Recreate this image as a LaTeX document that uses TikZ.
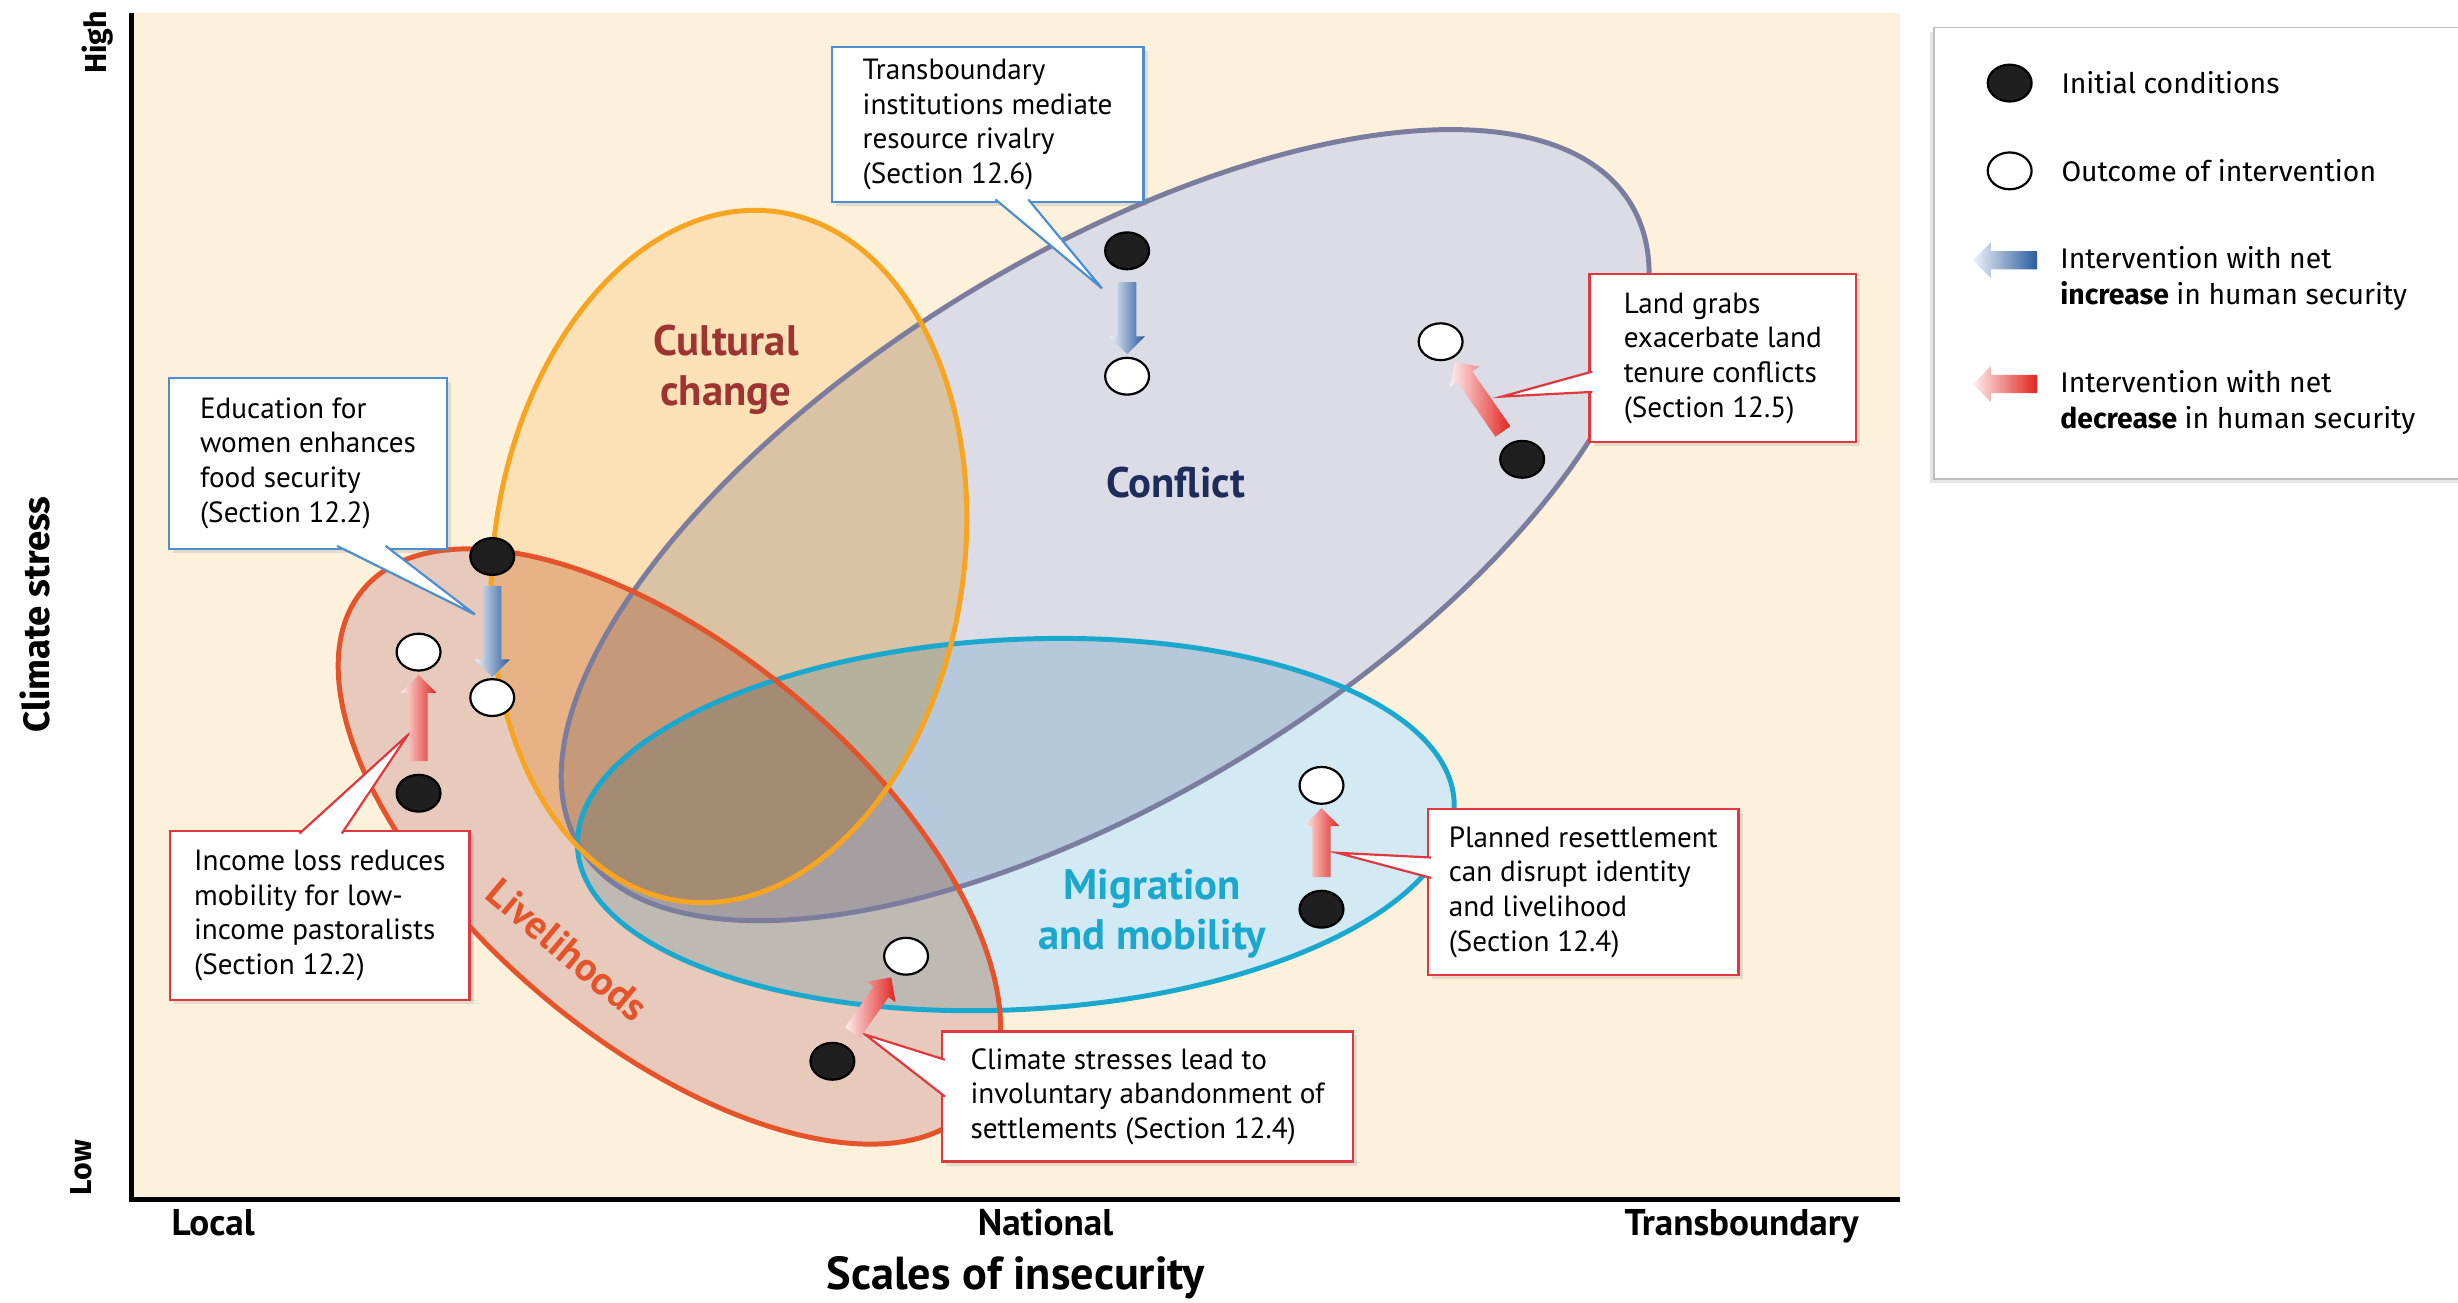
\documentclass[tikz,border=0pt]{standalone}
\usepackage{fontspec}
\setmainfont{PT Sans}
\newfontfamily\keyfont{Fira Sans}
\usepackage{tikz}
\usetikzlibrary{shapes.geometric, shapes.arrows, shadows, calc, positioning}
\definecolor{cream}{HTML}{FDF1DC}
\definecolor{confFill}{HTML}{DCDCE6}
\definecolor{confLine}{HTML}{7B7D9F}
\definecolor{cultFill}{HTML}{FDE1B6}
\definecolor{cultLine}{HTML}{F7A520}
\definecolor{livFill}{HTML}{E8CABC}
\definecolor{livLine}{HTML}{E4532A}
\definecolor{migFill}{HTML}{D3EAF5}
\definecolor{migLine}{HTML}{1BA8CE}
\definecolor{noteblue}{HTML}{4C8ED0}
\definecolor{notered}{HTML}{E0383E}
\definecolor{arrblue}{HTML}{2A5C9F}
\definecolor{arrred}{HTML}{E2231F}
\definecolor{cultname}{HTML}{9D3431}
\definecolor{confname}{HTML}{1E2C5C}
\tikzset{
	zone/.style={line width=1.8pt},
	dot/.style={ellipse, draw=black, line width=0.8pt, inner sep=0pt, minimum width=0.56cm, minimum height=0.47cm},
	initdot/.style={dot, fill=black!88},
	outdot/.style={dot, fill=white},
	note/.style={draw, fill=white, line width=0.8pt, outer sep=0pt, align=left, inner sep=0pt,
		font=\fontsize{10.6}{12.6}\selectfont, drop shadow={opacity=0.2, shadow xshift=1.5pt, shadow yshift=-1.5pt}},
	bluenote/.style={note, draw=noteblue},
	rednote/.style={note, draw=notered},
	push/.style={single arrow, inner xsep=0pt, inner ysep=0.11cm, single arrow head extend=0.11cm, sloped, allow upside down},
	gain/.style={push, left color=arrblue!8, right color=arrblue},
	loss/.style={push, left color=arrred!8, right color=arrred},
	tag/.style={font=\bfseries\fontsize{15.5}{18}\selectfont, align=center},
	axislabel/.style={font=\bfseries\fontsize{13.5}{16}\selectfont, anchor=base},
	keytext/.style={font=\keyfont\fontsize{10.3}{13}\selectfont, align=left, inner sep=0pt}
}
\newcommand{\pointer}[4]{%
	\fill[white] (#2) -- (#4) -- (#3) -- cycle;
	\draw[#1, line width=0.8pt] (#2) -- (#4) -- (#3);
}
\begin{document}
\begin{tikzpicture}[x=0.02cm, y=-0.02cm]
	\useasboundingbox (0,0) rectangle (1568,831);
	\fill[cream] (85,8) rectangle (1212,765);

	\coordinate (confl) at (705,335);
	\coordinate (cult) at (465,355);
	\coordinate (liveli) at (427,540);
	\coordinate (migr) at (648,526);
	\foreach \z/\a/\b/\r in {confl/393/172/31.5, cult/150/222/-8, liveli/255/125/-40, migr/280/118/3}
		\fill[white, rotate around={\r:(\z)}] (\z) ellipse [x radius=\a, y radius=\b];
	\begin{scope}[blend mode=multiply]
		\foreach \z/\a/\b/\r/\col in {confl/393/172/31.5/conf, cult/150/222/-8/cult, liveli/255/125/-40/liv, migr/280/118/3/mig}
			\fill[\col Fill, rotate around={\r:(\z)}] (\z) ellipse [x radius=\a, y radius=\b];
	\end{scope}
	\foreach \z/\a/\b/\r/\col in {confl/393/172/31.5/conf, migr/280/118/3/mig, liveli/255/125/-40/liv, cult/150/222/-8/cult}
		\draw[zone, \col Line, rotate around={\r:(\z)}] (\z) ellipse [x radius=\a, y radius=\b];

	\node[tag, text=cultname] (cultural) at (463,236) {Cultural\\change};
	\node[tag, text=confname] (conflict) at (750,308) {Conflict};
	\node[tag, text=migLine] (migration) at (735,583) {Migration\\and mobility};
	\node[tag, text=livLine, rotate=-40, font=\bfseries\fontsize{14.5}{17}\selectfont] (livelihoods) at (362,606) {Livelihoods};

	% axes
	\draw[line width=1.7pt] (84,8) -- (84,765) -- (1212,765);
	\node[font=\keyfont\bfseries\fontsize{11}{13}\selectfont, rotate=90] (high) at (62,27) {High};
	\node[font=\keyfont\bfseries\fontsize{11}{13}\selectfont, rotate=90] (low) at (52,745) {Low};
	\node[font=\keyfont\bfseries\fontsize{13.3}{15}\selectfont, rotate=90] (stress) at (22,392) {Climate stress};
	\node[axislabel] (local) at (136,788) {Local};
	\node[axislabel] (national) at (667,788) {National};
	\node[axislabel] (transb) at (1111,788) {Transboundary};
	\node[font=\bfseries\fontsize{16.8}{20}\selectfont] (scales) at (648,815) {Scales of insecurity};

	% legend
	\node[draw=black!25, fill=white, line width=0.6pt, minimum width=8cm, minimum height=5.76cm, anchor=north west,
		drop shadow={opacity=0.2, shadow xshift=-1.5pt, shadow yshift=-1.5pt}] (key) at (1233,17) {};
	\node[initdot] (keyinit) at (1282,53) {};
	\node[outdot] (keyout) at (1282,109) {};
	\node[gain, minimum height=0.82cm, rotate=180] (keyup) at (1282,166) {};
	\node[loss, minimum height=0.82cm, rotate=180] (keydown) at (1282,245) {};
	\node[keytext, right=0.36cm of keyinit] (keyinittext) {Initial conditions};
	\node[keytext, right=0.36cm of keyout] (keyouttext) {Outcome of intervention};
	\node[keytext, anchor=north west] (keyuptext) at (1314,157) {Intervention with net\\\textbf{increase} in human security};
	\node[keytext, anchor=north west] (keydowntext) at (1314,236) {Intervention with net\\\textbf{decrease} in human security};

	% callouts
	\node[bluenote, minimum width=3.98cm, minimum height=1.98cm] (trans) at (630,79.5) {Transboundary\\institutions mediate\\resource rivalry\\(Section 12.6)};
	\node[bluenote, minimum width=3.54cm, minimum height=2.18cm] (edu) at (196.5,295.5) {Education for\\women enhances\\food security\\(Section 12.2)};
	\node[rednote, minimum width=3.40cm, minimum height=2.14cm] (land) at (1099,228.5) {Land grabs\\exacerbate land\\tenure conflicts\\(Section 12.5)};
	\node[rednote, minimum width=3.82cm, minimum height=2.16cm] (inc) at (204,584) {Income loss reduces\\mobility for low-\\income pastoralists\\(Section 12.2)};
	\node[rednote, minimum width=5.24cm, minimum height=1.66cm] (clim) at (732,699.5) {Climate stresses lead to\\involuntary abandonment of\\settlements (Section 12.4)};
	\node[rednote, minimum width=3.96cm, minimum height=2.12cm] (plan) at (1010,569) {Planned resettlement\\can disrupt identity\\and livelihood\\(Section 12.4)};

	% initial conditions and outcomes
	\node[initdot] (edu0) at (314,355) {};
	\node[outdot] (edu1) at (314,445) {};
	\node[initdot] (inc0) at (267,506) {};
	\node[outdot] (inc1) at (267,416) {};
	\node[initdot] (trans0) at (719,160) {};
	\node[outdot] (trans1) at (719,240) {};
	\node[initdot] (land0) at (971,293) {};
	\node[outdot] (land1) at (919,218) {};
	\node[initdot] (clim0) at (531,677) {};
	\node[outdot] (clim1) at (578,610) {};
	\node[initdot] (plan0) at (843,580) {};
	\node[outdot] (plan1) at (843,501) {};

	\coordinate (trans-tip) at (703,184);
	\coordinate (edu-tip) at (303,392);
	\coordinate (land-tip) at (958,253);
	\coordinate (inc-tip) at (260,469);
	\coordinate (clim-tip) at (552,660);
	\coordinate (plan-tip) at (853,544);
	\pointer{noteblue}{[xshift=0.1cm, yshift=1pt]trans.south}{[xshift=0.52cm, yshift=1pt]trans.south}{trans-tip}
	\pointer{noteblue}{[xshift=0.37cm, yshift=1pt]edu.south}{[xshift=0.99cm, yshift=1pt]edu.south}{edu-tip}
	\pointer{notered}{[xshift=1pt, yshift=-0.17cm]land.west}{[xshift=1pt, yshift=-0.43cm]land.west}{land-tip}
	\pointer{notered}{[xshift=-0.26cm, yshift=-1pt]inc.north}{[xshift=0.28cm, yshift=-1pt]inc.north}{inc-tip}
	\pointer{notered}{[xshift=1pt, yshift=0.47cm]clim.west}{[xshift=1pt, yshift=0cm]clim.west}{clim-tip}
	\pointer{notered}{[xshift=1pt, yshift=0.44cm]plan.west}{[xshift=1pt, yshift=0.18cm]plan.west}{plan-tip}

	% interventions
	\path (edu0) -- node[gain, minimum height=1.16cm] {} (edu1);
	\path (inc0) -- node[loss, minimum height=1.1cm] {} (inc1);
	\path (trans0) -- node[gain, minimum height=0.92cm] {} (trans1);
	\path (land0) -- node[loss, minimum height=1.08cm] {} (land1);
	\path (clim0) -- node[loss, minimum height=0.86cm] {} (clim1);
	\path (plan0) -- node[loss, minimum height=0.88cm] {} (plan1);
\end{tikzpicture}
\end{document}
